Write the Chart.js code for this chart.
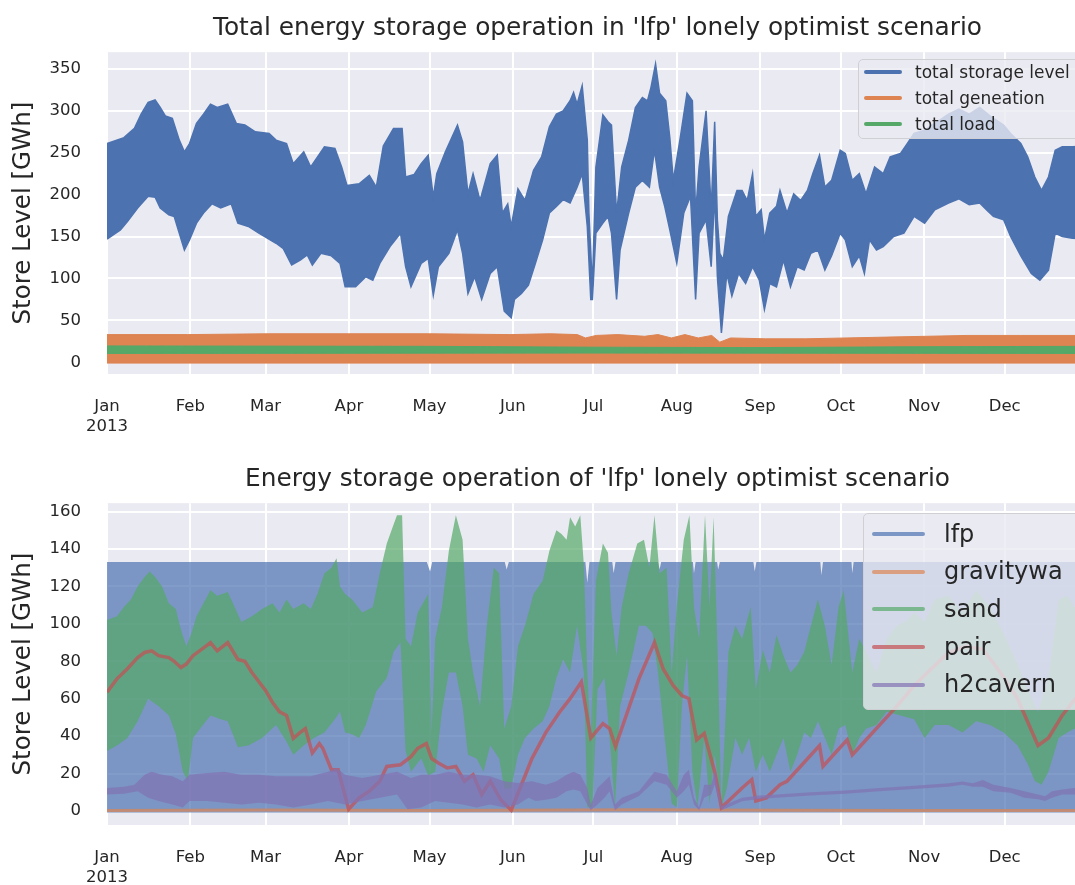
<!DOCTYPE html>
<html>
<head>
<meta charset="utf-8">
<script src="https://cdn.jsdelivr.net/npm/chart.js@4.4.1/dist/chart.umd.min.js"></script>
<style>
    html, body { margin: 0; padding: 0; background: #ffffff; overflow: hidden; }
    #wrap { position: relative; width: 1075px; height: 885px; overflow: hidden; }
    canvas { position: absolute; left: 0; }
    #c1 { top: 0; }
    #c2 { top: 440px; }
    .legend {
        position: absolute;
        background: rgba(234, 234, 242, 0.8);
        border: 1.5px solid #cfcfd4;
        border-radius: 5px;
        font-family: 'DejaVu Sans', sans-serif;
        color: #262626;
    }
    .legend .row { position: absolute; white-space: nowrap; }
    .legend .swatch { position: absolute; height: 4px; border-radius: 2px; }
</style>
</head>
<body>
<div id="wrap">
    <canvas id="c1" width="1100" height="440"></canvas>
    <canvas id="c2" width="1100" height="445"></canvas>
    <div id="leg1" class="legend" style="left:858px; top:59px; width:240px; height:78px;"></div>
    <div id="leg2" class="legend" style="left:863px; top:513px; width:240px; height:195px;"></div>
</div>
<script>
// x axis is day of year 2013 (0 = Jan 1)
const monthStarts = [0, 31, 59, 90, 120, 151, 181, 212, 243, 273, 304, 334];
const monthLabels = ['Jan', 'Feb', 'Mar', 'Apr', 'May', 'Jun', 'Jul', 'Aug', 'Sep', 'Oct', 'Nov', 'Dec'];
const yTicksTop = [0, 50, 100, 150, 200, 250, 300, 350];
const yTicksBottom = [0, 20, 40, 60, 80, 100, 120, 140, 160];

const topLabels = ['total storage level', 'total geneation', 'total load'];
const bottomLabels = ['lfp', 'gravitywa', 'sand', 'pair', 'h2cavern'];

// --- top chart: envelopes [day, GWh] of the hourly series ---
const storeHigh = [[0,261],[6.3,268],[10.2,279],[12.7,296],[15.3,310],[17.9,313],[19.8,304],[21.7,294],[24.3,291],[26.9,265],[28.8,251],[30.7,261],[33.3,285],[35.9,296],[38.5,308],[41,304],[44.9,308],[48.1,285],[51.3,283],[55.2,275],[60.3,273],[62.9,265],[66.8,261],[69.3,237],[73.2,251],[75.8,233],[80.9,257],[84.8,255],[87.3,233],[89.3,211],[93.8,213],[97.6,223],[100.2,209],[102.8,258],[106.6,279],[109.8,279],[111.1,221],[114.3,224],[116.9,237],[119.5,247],[121.4,197],[122.7,225],[125.9,251],[130.4,283],[132.3,263],[134.3,201],[136.2,225],[138.8,193],[142.6,237],[145.2,247],[147.1,178],[149.1,189],[150.4,162],[152.9,207],[155.5,193],[158.7,229],[161.7,245],[164.6,281],[167.2,296],[169.7,300],[172.3,312],[173.6,322],[174.9,308],[176.8,330],[178.7,265],[179.3,178],[180.6,90],[181.9,233],[184.5,295],[186.4,287],[187.7,283],[189.6,178],[191.5,233],[194.1,265],[196.6,304],[199.2,316],[201.1,312],[202.4,328],[204.1,356],[205.6,321],[207.9,312],[209.4,268],[210.7,217],[213.3,268],[215.8,321],[217.8,312],[219,178],[220.3,233],[222.9,300],[224.8,182],[226.1,287],[227.1,170],[228,130],[229.3,122],[231.2,174],[234.4,205],[236.3,205],[238.2,193],[240.2,225],[241.4,174],[243.4,182],[244.6,146],[246.6,178],[249.1,186],[250.4,205],[253,178],[255.5,201],[258.1,193],[260.6,205],[262.6,225],[265.1,247],[267.1,209],[269.6,217],[272.8,253],[274.7,249],[277.3,217],[279.9,225],[282.4,201],[285.6,233],[288.8,225],[291.4,245],[295.2,249],[297.8,261],[300.3,273],[304.2,277],[308,285],[313.1,296],[317,302],[320.8,296],[324.7,304],[328.5,294],[333.6,283],[336.2,273],[340,261],[342.6,245],[345.2,221],[347.7,205],[350.3,221],[352.8,253],[355.4,257],[359.2,257],[365,258]];
const storeLow = [[0,147],[5,158],[7.6,168],[11.4,184],[15.3,198],[17.9,197],[19.8,184],[23,176],[25,174],[26.9,154],[28.8,134],[30.7,146],[33.3,166],[35.9,178],[39.1,189],[42.3,184],[46.2,189],[48.7,166],[52.6,162],[56.5,154],[62.9,142],[65.5,136],[68.7,116],[71.9,122],[74.5,128],[76.4,116],[79.6,130],[83.5,127],[86.7,118],[88.6,90],[92.5,90],[96.3,102],[98.9,98],[101.5,118],[105.3,138],[109.2,154],[111.1,114],[113.1,90],[116.9,118],[119.5,124],[121.4,80],[123.3,114],[127.2,130],[130.4,158],[132.3,130],[134.3,82],[136.8,102],[139.4,75],[142.6,106],[145.2,114],[147.8,61],[150.4,53],[151.6,75],[154.2,82],[156.8,92],[159.4,118],[162.1,146],[164.6,178],[167.2,186],[169.7,194],[172.3,190],[174.9,209],[176.8,225],[178.7,162],[180,75],[180.6,75],[181.9,154],[184.5,166],[186.4,174],[187.7,154],[189.6,75],[190.9,134],[194.1,178],[196.6,209],[199.2,217],[201.8,209],[203.7,253],[205.6,209],[207.5,186],[209.4,158],[212,118],[214.6,178],[217.1,198],[219,75],[220.3,154],[222.9,170],[224.8,114],[226.1,201],[227.1,102],[228.6,35],[230.6,106],[232.5,79],[235,106],[237.6,94],[240.2,114],[242.7,98],[244.6,63],[246.6,94],[249.1,90],[251.7,122],[254.3,90],[256.8,114],[259.4,110],[261.9,130],[264.5,134],[267.1,110],[269.6,127],[272.8,154],[274.7,146],[277.3,114],[279.9,127],[281.8,106],[283.7,146],[286.3,134],[288.8,138],[292.7,150],[296.5,154],[300.3,174],[304.2,166],[308,182],[313.1,190],[317,195],[320.8,188],[324.7,190],[327.2,182],[329.8,174],[333.6,170],[336.2,150],[340,127],[343.9,106],[347.1,98],[350.3,110],[352.8,154],[355.4,150],[359.2,148],[365,147]];
const genHigh = [[0,33],[30,33],[60,34],[90,34],[120,34],[150,33],[165,34],[175,33],[178,29],[182,32],[190,33],[200,31],[205,33],[210,29],[215,33],[220,29],[225,32],[228,24],[232,29],[245,28],[260,28],[275,29],[290,30],[305,31],[320,32],[340,32],[365,32]];
const genLow = [[0,-1],[365,-1]];
const loadHigh = [[0,19.5],[120,19],[180,18],[240,17.5],[300,18.5],[365,19]];
const loadLow = [[0,10.5],[180,11],[365,10.5]];

// --- bottom chart: envelopes per technology ---
const lfpHigh = [[0,133],[119,133],[120.2,128],[121,133],[148,133],[148.7,129],[149.5,133],[178,133],[178.7,122],[179.5,133],[188,133],[188.5,127],[189.2,133],[205,133],[205.6,129],[206.2,133],[218,133],[218.4,127],[219,133],[227,133],[227.4,129],[228,133],[240.5,133],[241,128],[241.6,133],[265.4,133],[265.8,126],[266.4,133],[277,133],[277.3,127],[277.8,133],[365,133]];
const lfpLow = [[0,-0.8],[365,-0.8]];
const gravityLine = [[0,0.2],[60,0.5],[120,0.3],[200,0.6],[250,0.4],[300,0.3],[365,0.3]];
const sandHigh = [[0,102],[3.7,104],[6.3,109],[8.9,113],[11.4,120],[14,125],[15.9,128],[17.9,125],[20.5,120],[23,111],[25.6,108],[27.5,97],[29.5,88],[31.4,95],[33.3,104],[35.9,111],[38.5,118],[41,115],[44.9,117],[47.5,109],[50,101],[53.9,104],[57.7,108],[61.6,111],[64.2,106],[66.8,113],[69.3,108],[73.2,111],[75.8,108],[78.3,116],[80.9,127],[83.5,130],[85.4,135],[86.7,120],[88.6,116],[91.2,113],[95,106],[98.9,109],[101.5,127],[104.1,143],[106.6,153],[107.9,158],[109.8,158],[111.1,92],[113.1,88],[115.6,106],[119.5,116],[120.8,42],[122.1,92],[124.6,109],[127.2,139],[129.8,158],[132.3,145],[134.3,92],[136.2,74],[138.8,56],[141.3,99],[143.9,130],[145.9,127],[147.8,44],[150.4,56],[152.9,88],[155.5,99],[158.7,116],[162.1,123],[164.6,139],[167.2,150],[169.1,148],[171,145],[172.3,157],[174.2,152],[176.1,158],[177.4,132],[178.7,74],[180,39],[181.9,123],[184.5,143],[186.4,138],[187.7,106],[189.6,83],[191.5,109],[194.1,127],[197.3,143],[199.8,145],[201.8,130],[203.7,158],[205.6,127],[208.2,130],[210.1,74],[212,109],[214.6,145],[216.7,158],[218.4,109],[220.3,92],[222.5,158],[224.2,109],[225.7,157],[227.4,74],[228.6,2],[231.2,85],[233.8,99],[236.3,92],[239.5,109],[241.4,65],[244,86],[246.6,74],[249.1,94],[251.7,83],[254.3,74],[256.8,78],[259.4,85],[261.9,99],[264.5,113],[267.1,99],[269.6,78],[272.2,109],[274.1,118],[277.3,74],[279.9,92],[282.4,85],[286.3,74],[290.1,92],[293.9,99],[297.8,102],[300.3,106],[304.2,101],[308,113],[313.1,115],[318.3,106],[323.4,118],[328.5,109],[333.6,95],[338.8,78],[342.6,65],[346.4,53],[350.3,71],[354.1,113],[357.3,115],[359.9,109],[365,110]];
const sandLow = [[0,32],[3.7,35],[7.6,39],[11.4,48],[15.3,60],[19.2,56],[23,51],[25.6,41],[28.2,21],[30.1,16],[32,39],[34.6,44],[38.5,51],[42.3,49],[44.9,48],[48.7,34],[52.6,35],[57.7,39],[62.9,46],[66.8,37],[69.3,30],[73.2,35],[77,39],[80.9,42],[84.8,49],[86.7,53],[88.6,42],[91.2,41],[93.8,39],[96.3,46],[100.2,64],[104.1,71],[106.6,85],[109.2,90],[111.1,32],[113.1,21],[116.9,28],[119.5,19],[122.1,21],[124.6,53],[127.2,74],[129.8,74],[132.3,56],[134.3,30],[137.5,28],[140.1,21],[142.6,35],[145.9,28],[147.8,12],[150.4,12],[152.9,30],[155.5,39],[158.7,44],[162.1,48],[164.6,56],[167.2,71],[169.7,81],[172.3,74],[174.9,99],[177.4,74],[178.7,2],[180.6,2],[182.5,65],[185.1,71],[187,39],[189,2],[190.9,56],[194.1,74],[197.9,99],[200.5,99],[203,95],[205,74],[207.5,39],[210.1,4],[212,2],[213.9,56],[215.8,83],[217.8,21],[219.7,2],[222.2,39],[224.2,4],[226.1,30],[228.6,2],[230.6,12],[233.8,39],[236.3,30],[238.9,39],[241.4,21],[244,30],[246.6,21],[249.1,30],[251.7,39],[254.3,21],[256.8,30],[259.4,42],[261.9,39],[264.5,48],[267.1,39],[269.6,30],[272.2,44],[274.7,46],[277.3,30],[279.9,39],[282.4,44],[286.3,46],[290.1,53],[295.2,51],[300.3,49],[304.2,39],[308,46],[313.1,46],[318.3,42],[323.4,48],[328.5,46],[333.6,42],[338.8,35],[342.6,25],[345.2,16],[347.7,14],[350.3,21],[354.1,39],[357.3,42],[359.9,44],[365,44]];
const pairLine = [[0,63.5],[3.7,70.6],[7.6,76],[11.4,82],[14,84.7],[16.6,85.6],[19.2,83],[23,82],[25,80],[27.5,76.7],[29.5,78.5],[32,83],[35.2,86.4],[38.5,90],[41,85.6],[44.9,90],[48.7,81],[51.3,80],[53.9,74],[59,64.4],[61.6,58],[64.2,53],[66.8,51],[69.3,38.8],[71.9,42],[73.8,44],[76.4,31],[79,36],[80.3,33.5],[83.5,22],[86,22],[89.9,0.9],[93.8,7],[97.6,10.6],[101.5,15.9],[104.1,23.8],[109.2,24.7],[113.1,29],[115.6,33.5],[118.8,36],[120.8,28],[123.3,25.6],[126.6,23],[129.8,23.8],[133,15.9],[136.2,19.4],[139.4,8.8],[142.6,15.9],[146.5,6],[150.4,0.4],[154.2,14],[158.1,28],[163.3,42],[168.5,53],[172.3,60],[176.5,69],[180,39],[184.5,46.7],[187,44],[189.2,34.4],[192.8,49.4],[197.9,70.6],[203.7,90],[206.9,76],[210.7,67],[213.9,61.7],[216.5,60],[219.4,38],[222.2,41.5],[226.1,21],[228.6,1.8],[231.2,5.3],[236.3,12.3],[239.9,16.8],[241.4,5.3],[245.3,7],[250.4,14],[253,15.9],[265.1,35],[266.4,23.8],[270.9,31],[275.4,38],[277.3,30],[280.5,35],[287.5,46],[293.9,56],[300.3,67],[306.7,76],[313.1,84.7],[319.5,88],[325.9,86.4],[332.4,74],[338.8,60],[346.4,35],[350.3,39],[355.4,51],[360.3,60],[365,65]];
const h2High = [[0,12.3],[6.3,13],[10.2,14],[14,19.4],[16.6,21],[20.5,19.4],[24.3,18.5],[28.2,15.9],[30.7,19.4],[37.2,20.3],[43.6,21],[50,19.4],[56.5,19.4],[62.9,18.5],[69.3,18.5],[75.8,18.5],[82.2,21],[85.4,23],[88.6,19.4],[95,17.6],[101.5,19.4],[107.9,21],[113.1,17.6],[116.9,19.4],[122.1,19.4],[127.2,21],[132.3,19.4],[137.5,19.4],[142.6,18.5],[147.8,15.9],[152.9,15],[158.1,15.9],[163.3,14],[167.2,15.9],[171,19.4],[173.6,21],[176.1,19.4],[178.7,12.3],[180,3.5],[182.5,12.3],[185.1,15.9],[187,18.5],[189,3.5],[191.5,7],[197.9,10.6],[203.7,21],[208.2,19.4],[212,10.6],[214.6,19.4],[216.5,22],[218.4,7],[220.3,1.8],[222.2,14],[224.8,14],[226.1,21],[228.6,2.5],[236.3,7],[242.7,8.2],[249.1,8.8],[261.9,10],[274.7,11],[287.5,12.3],[300.3,13.5],[313.1,14.8],[318.3,15.8],[322.1,14.8],[325.9,16.5],[329.8,14],[336.2,12.3],[341.3,10.6],[346.4,8.8],[349,7.9],[351.6,10.6],[355.4,11.5],[359.9,12.3],[365,12]];
const h2Low = [[0,8.8],[6.3,9.2],[11.4,10.6],[15.3,7],[19.2,5.3],[24.3,3.5],[28.2,1.8],[30.7,5.3],[37.2,5.3],[43.6,4.4],[50,3.5],[56.5,4.4],[62.9,3.5],[69.3,1.8],[75.8,3.5],[82.2,5.3],[88.6,3.5],[95,5.3],[101.5,7],[107.9,8.8],[111.8,0.9],[116.9,1.8],[122.1,5.3],[127.2,4.4],[132.3,3.5],[137.5,1.8],[142.6,3.5],[147.8,1.8],[152.9,3.5],[156.8,7],[159.5,5.3],[163.3,6],[167.2,7],[171,10.6],[173.6,11.5],[176.1,10.6],[178.7,3.5],[180,0.4],[182.5,3.5],[185.1,7],[187,10.6],[189,0.4],[191.5,3.5],[197.9,8],[203.7,15.9],[208.2,14],[212,7],[214.6,10.6],[216.5,14],[218.4,3.5],[220.3,0.4],[222.2,7],[224.8,8.8],[226.1,14],[228.6,0.4],[236.3,5.2],[242.7,6.4],[249.1,7],[261.9,8.2],[274.7,9.2],[287.5,10.5],[300.3,11.7],[313.1,13],[318.3,14],[322.1,13],[325.9,13],[329.8,10.6],[336.2,9.7],[341.3,7],[346.4,6.2],[349,5.3],[351.6,7],[355.4,8.8],[359.9,8.8],[365,9]];

const FONT = "'DejaVu Sans', sans-serif";
const INK = '#262626';
const pts = arr => arr.map(([x, y]) => ({ x: x, y: y }));

// area between a low and a high envelope: two datasets, the second fills to the first
function band(low, high, color, order, edge) {
    return [
        { data: pts(low), borderColor: color, borderWidth: edge, backgroundColor: color, fill: false, order: order },
        { data: pts(high), borderColor: color, borderWidth: edge, backgroundColor: color, fill: '-1', order: order }
    ];
}
function line(data, color, width, order) {
    return { data: pts(data), borderColor: color, borderWidth: width, fill: false, order: order };
}

const plotBg = {
    id: 'plotBg',
    beforeDraw(chart) {
        const { ctx, chartArea: a } = chart;
        ctx.save();
        ctx.fillStyle = '#EAEAF2';
        ctx.fillRect(a.left, a.top, a.right - a.left, a.bottom - a.top);
        ctx.restore();
    }
};

function makeOptions(titleText, titlePad, yMin, yMax, yTicks, xAxisHeight) {
    const grid = { color: '#ffffff', lineWidth: 2, drawTicks: false };
    return {
        responsive: false,
        animation: false,
        events: [],
        elements: { point: { radius: 0 }, line: { tension: 0 } },
        layout: { padding: { left: 0, right: 12, top: 0, bottom: 0 } },
        plugins: {
            legend: { display: false },
            tooltip: { enabled: false },
            title: {
                display: true,
                text: titleText,
                fullSize: false,
                color: INK,
                font: { family: FONT, size: 24.8, weight: 'normal' },
                padding: titlePad
            }
        },
        scales: {
            x: {
                type: 'linear',
                min: 0,
                max: 365,
                grid: grid,
                border: { display: false },
                afterBuildTicks: s => { s.ticks = monthStarts.map(v => ({ value: v })); },
                afterFit: s => { s.height = xAxisHeight; },
                ticks: {
                    color: INK,
                    font: { family: FONT, size: 16.5, lineHeight: 1.25 },
                    padding: 22,
                    maxRotation: 0,
                    autoSkip: false,
                    callback: (v, i) => i === 0 ? [monthLabels[0], '2013'] : monthLabels[i]
                }
            },
            y: {
                min: yMin,
                max: yMax,
                grid: grid,
                border: { display: false },
                afterBuildTicks: s => { s.ticks = yTicks.map(v => ({ value: v })); },
                afterFit: s => { s.width = 107; },
                ticks: { color: INK, font: { family: FONT, size: 16.5 }, padding: 26 },
                title: {
                    display: true,
                    text: 'Store Level [GWh]',
                    color: INK,
                    font: { family: FONT, size: 24.5 },
                    padding: { top: 9, bottom: 0 }
                }
            }
        }
    };
}

// Top: total storage operation
const topColors = ['#4C72B0', '#DD8452', '#55A868'];
new Chart(document.getElementById('c1'), {
    type: 'line',
    data: {
        datasets: [
            ...band(storeLow, storeHigh, topColors[0], 30, 1.5),
            ...band(genLow, genHigh, topColors[1], 20, 1),
            ...band(loadLow, loadHigh, topColors[2], 10, 1)
        ]
    },
    options: makeOptions("Total energy storage operation in 'lfp' lonely optimist scenario",
        { top: 13.2, bottom: 9.2 }, -14, 370, yTicksTop, 66),
    plugins: [plotBg]
});

// Bottom: per technology, seaborn colours at alpha 0.7
const bottomColors = ['rgba(76,114,176,0.7)', 'rgba(221,132,82,0.7)', 'rgba(85,168,104,0.7)',
    'rgba(196,78,82,0.7)', 'rgba(129,114,179,0.7)'];
new Chart(document.getElementById('c2'), {
    type: 'line',
    data: {
        datasets: [
            ...band(lfpLow, lfpHigh, bottomColors[0], 50, 0),
            line(gravityLine, bottomColors[1], 3, 40),
            ...band(sandLow, sandHigh, bottomColors[2], 30, 0),
            line(pairLine, bottomColors[3], 3.5, 20),
            ...band(h2Low, h2High, bottomColors[4], 10, 0)
        ]
    },
    options: makeOptions("Energy storage operation of 'lfp' lonely optimist scenario",
        { top: 24.2, bottom: 9.2 }, -7.5, 164.5, yTicksBottom, 60),
    plugins: [plotBg]
});

// Legends drawn as html boxes inside the plot area (top right)
function buildLegend(id, labels, colors, opt) {
    const box = document.getElementById(id);
    labels.forEach((lab, i) => {
        const y = opt.firstY + i * opt.step;
        const sw = document.createElement('div');
        sw.className = 'swatch';
        sw.style.cssText = `left:${opt.lineX}px; top:${y - 2}px; width:${opt.lineW}px; background:${colors[i]};`;
        box.appendChild(sw);
        const row = document.createElement('div');
        row.className = 'row';
        row.textContent = lab;
        row.style.cssText = `left:${opt.textX}px; top:${y - opt.font * 0.6}px; font-size:${opt.font}px; line-height:${opt.font * 1.2}px;`;
        box.appendChild(row);
    });
}
buildLegend('leg1', topLabels, topColors, { firstY: 12, step: 26, lineX: 5, lineW: 38, textX: 56, font: 17 });
buildLegend('leg2', bottomLabels, bottomColors, { firstY: 20, step: 37.7, lineX: 8, lineW: 53, textX: 80, font: 24 });
</script>
</body>
</html>
